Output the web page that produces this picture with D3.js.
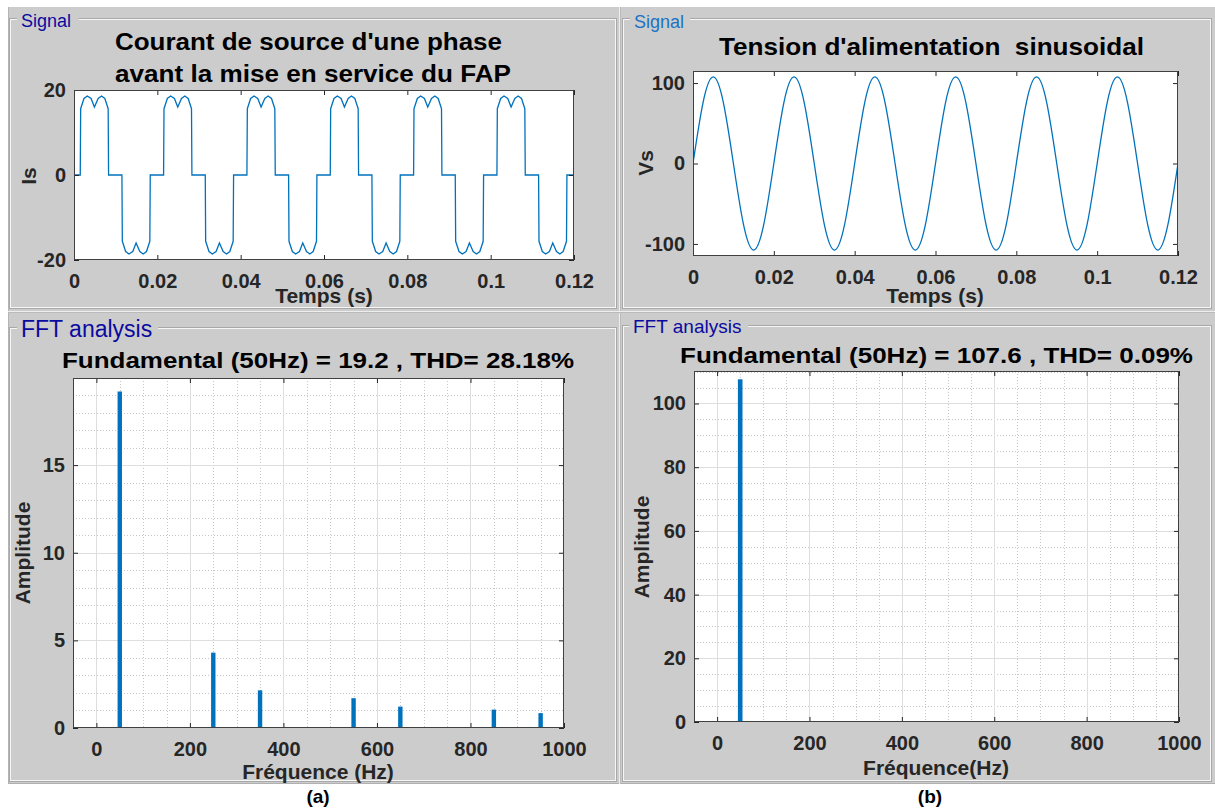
<!DOCTYPE html>
<html>
<head>
<meta charset="utf-8">
<script src="https://cdn.jsdelivr.net/npm/d3@7"></script>
<style>
  html, body { margin: 0; padding: 0; background: #ffffff; }
  svg { display: block; font-family: "Liberation Sans", Arial, Helvetica, sans-serif; }
</style>
</head>
<body>
<script>
// ---------------------------------------------------------------------------
// Data
// ---------------------------------------------------------------------------

// Source current of one phase before the active filter (FAP) is switched on
const isTime = [
  0,
  0.0015, 0.0016, 0.0024, 0.0032, 0.0041, 0.0049, 0.0058, 0.0066, 0.0074, 0.0082, 0.0083,
  0.0115, 0.0116, 0.0124, 0.0132, 0.0141, 0.0149, 0.0158, 0.0166, 0.0174, 0.0182, 0.0183,
  0.0215, 0.0216, 0.0224, 0.0232, 0.0241, 0.0249, 0.0258, 0.0266, 0.0274, 0.0282, 0.0283,
  0.0315, 0.0316, 0.0324, 0.0332, 0.0341, 0.0349, 0.0358, 0.0366, 0.0374, 0.0382, 0.0383,
  0.0415, 0.0416, 0.0424, 0.0432, 0.0441, 0.0449, 0.0458, 0.0466, 0.0474, 0.0482, 0.0483,
  0.0515, 0.0516, 0.0524, 0.0532, 0.0541, 0.0549, 0.0558, 0.0566, 0.0574, 0.0582, 0.0583,
  0.0615, 0.0616, 0.0624, 0.0632, 0.0641, 0.0649, 0.0658, 0.0666, 0.0674, 0.0682, 0.0683,
  0.0715, 0.0716, 0.0724, 0.0732, 0.0741, 0.0749, 0.0758, 0.0766, 0.0774, 0.0782, 0.0783,
  0.0815, 0.0816, 0.0824, 0.0832, 0.0841, 0.0849, 0.0858, 0.0866, 0.0874, 0.0882, 0.0883,
  0.0915, 0.0916, 0.0924, 0.0932, 0.0941, 0.0949, 0.0958, 0.0966, 0.0974, 0.0982, 0.0983,
  0.1015, 0.1016, 0.1024, 0.1032, 0.1041, 0.1049, 0.1058, 0.1066, 0.1074, 0.1082, 0.1083,
  0.1115, 0.1116, 0.1124, 0.1132, 0.1141, 0.1149, 0.1158, 0.1166, 0.1174, 0.1182, 0.1183,
  0.12
];
const isValue = [
  0,
  0, 15.6, 18.0, 18.6, 18.0, 16.0, 18.0, 18.6, 18.0, 15.6, 0,
  0, -15.6, -18.0, -18.6, -18.0, -16.0, -18.0, -18.6, -18.0, -15.6, 0,
  0, 15.6, 18.0, 18.6, 18.0, 16.0, 18.0, 18.6, 18.0, 15.6, 0,
  0, -15.6, -18.0, -18.6, -18.0, -16.0, -18.0, -18.6, -18.0, -15.6, 0,
  0, 15.6, 18.0, 18.6, 18.0, 16.0, 18.0, 18.6, 18.0, 15.6, 0,
  0, -15.6, -18.0, -18.6, -18.0, -16.0, -18.0, -18.6, -18.0, -15.6, 0,
  0, 15.6, 18.0, 18.6, 18.0, 16.0, 18.0, 18.6, 18.0, 15.6, 0,
  0, -15.6, -18.0, -18.6, -18.0, -16.0, -18.0, -18.6, -18.0, -15.6, 0,
  0, 15.6, 18.0, 18.6, 18.0, 16.0, 18.0, 18.6, 18.0, 15.6, 0,
  0, -15.6, -18.0, -18.6, -18.0, -16.0, -18.0, -18.6, -18.0, -15.6, 0,
  0, 15.6, 18.0, 18.6, 18.0, 16.0, 18.0, 18.6, 18.0, 15.6, 0,
  0, -15.6, -18.0, -18.6, -18.0, -16.0, -18.0, -18.6, -18.0, -15.6, 0,
  0
];

// Sinusoidal supply voltage, sampled every 2.5 ms
const vsTime = [
  0, 0.0025, 0.005, 0.0075, 0.01, 0.0125, 0.015, 0.0175,
  0.02, 0.0225, 0.025, 0.0275, 0.03, 0.0325, 0.035, 0.0375,
  0.04, 0.0425, 0.045, 0.0475, 0.05, 0.0525, 0.055, 0.0575,
  0.06, 0.0625, 0.065, 0.0675, 0.07, 0.0725, 0.075, 0.0775,
  0.08, 0.0825, 0.085, 0.0875, 0.09, 0.0925, 0.095, 0.0975,
  0.1, 0.1025, 0.105, 0.1075, 0.11, 0.1125, 0.115, 0.1175,
  0.12
];
const vsValue = [
  0, 76.1, 107.6, 76.1, 0, -76.1, -107.6, -76.1,
  0, 76.1, 107.6, 76.1, 0, -76.1, -107.6, -76.1,
  0, 76.1, 107.6, 76.1, 0, -76.1, -107.6, -76.1,
  0, 76.1, 107.6, 76.1, 0, -76.1, -107.6, -76.1,
  0, 76.1, 107.6, 76.1, 0, -76.1, -107.6, -76.1,
  0, 76.1, 107.6, 76.1, 0, -76.1, -107.6, -76.1,
  0
];

// FFT spectra (harmonic frequency in Hz, amplitude)
const spectrumFreqA = [50, 250, 350, 550, 650, 850, 950];
const spectrumAmpA  = [19.2, 4.3, 2.15, 1.7, 1.22, 1.05, 0.85];
const thdA = "28.18%";
const spectrumFreqB = [50];
const spectrumAmpB  = [107.6];
const thdB = "0.09%";

// Tick values and labels
const timeTicks = [0, 0.02, 0.04, 0.06, 0.08, 0.1, 0.12];
const timeTickLabels = ["0", "0.02", "0.04", "0.06", "0.08", "0.1", "0.12"];
const isTicks = [-20, 0, 20];
const isTickLabels = ["-20", "0", "20"];
const vsTicks = [-100, 0, 100];
const vsTickLabels = ["-100", "0", "100"];
const freqTicks = [0, 200, 400, 600, 800, 1000];
const freqTickLabels = ["0", "200", "400", "600", "800", "1000"];
const ampTicksA = [0, 5, 10, 15];
const ampTickLabelsA = ["0", "5", "10", "15"];
const ampTicksB = [0, 20, 40, 60, 80, 100];
const ampTickLabelsB = ["0", "20", "40", "60", "80", "100"];

// ---------------------------------------------------------------------------
// Drawing
// ---------------------------------------------------------------------------
const W = 1215, H = 811;
const panelGray = "#cccccc";
const lineBlue = "#0072bd";
const inkDark = "#262626";

const svg = d3.select("body").append("svg").attr("width", W).attr("height", H);

// Window background and separators
svg.append("rect").attr("x", 8).attr("y", 7).attr("width", W - 8).attr("height", 777).attr("fill", panelGray);
svg.append("line").attr("x1", 8.5).attr("x2", 8.5).attr("y1", 7).attr("y2", 784).attr("stroke", "#b4b4b4");
svg.append("line").attr("x1", 8).attr("x2", W).attr("y1", 783.5).attr("y2", 783.5).attr("stroke", "#b0b0b0");
svg.append("line").attr("x1", 619.5).attr("x2", 619.5).attr("y1", 7).attr("y2", 784).attr("stroke", "#eeeeee");
svg.append("line").attr("x1", 620.5).attr("x2", 620.5).attr("y1", 7).attr("y2", 784).attr("stroke", "#bababa");
svg.append("line").attr("x1", 8).attr("x2", W).attr("y1", 311.5).attr("y2", 311.5).attr("stroke", "#eeeeee");
svg.append("line").attr("x1", 8).attr("x2", W).attr("y1", 312.5).attr("y2", 312.5).attr("stroke", "#bababa");

function groupBox(x0, y0, x1, y1, label, color, size, tx, ty, gap0, gap1) {
  const g = svg.append("g");
  g.append("rect").attr("x", x0 + 0.5).attr("y", y0 + 0.5)
    .attr("width", x1 - x0).attr("height", y1 - y0)
    .attr("fill", "none").attr("stroke", "#a8a8a8");
  g.append("rect").attr("x", x0 + 1.5).attr("y", y0 + 1.5)
    .attr("width", x1 - x0 - 2).attr("height", y1 - y0 - 2)
    .attr("fill", "none").attr("stroke", "#f6f6f6");
  g.append("rect").attr("x", gap0).attr("y", y0 - 3).attr("width", gap1 - gap0).attr("height", 7).attr("fill", panelGray);
  g.append("text").attr("x", tx).attr("y", ty).attr("fill", color).attr("font-size", size).text(label);
}

groupBox(9, 18, 616, 308, "Signal", "#0a0aa0", 18, 21, 27, 17, 79);
groupBox(622, 18, 1211, 308, "Signal", "#1c72c4", 18, 634, 28, 630, 690);
groupBox(9, 327, 616, 781, "FFT analysis", "#0a0aa0", 23, 21, 337, 17, 158);
groupBox(622, 325, 1211, 781, "FFT analysis", "#0a0aa0", 19, 633, 333, 629, 748);

function makeAxes(x0, y0, x1, y1, xDomain, yDomain) {
  const x = d3.scaleLinear().domain(xDomain).range([x0, x1]);
  const y = d3.scaleLinear().domain(yDomain).range([y1, y0]);
  const g = svg.append("g");
  g.append("rect").attr("x", x0).attr("y", y0).attr("width", x1 - x0).attr("height", y1 - y0).attr("fill", "#ffffff");
  const clipId = "clip" + Math.round(x0) + "_" + Math.round(y0);
  g.append("clipPath").attr("id", clipId).append("rect")
    .attr("x", x0).attr("y", y0).attr("width", x1 - x0).attr("height", y1 - y0);
  const plot = g.append("g").attr("clip-path", `url(#${clipId})`);
  return { x, y, g, plot, x0, x1, y0, y1 };
}

function drawGrid(ax, xMinor, xMajor, yMinor, yMajor) {
  const gg = ax.plot.append("g");
  const vline = (sel, vals, stroke, dash) => sel.selectAll(null).data(vals).join("line")
    .attr("x1", d => Math.round(ax.x(d)) + 0.5).attr("x2", d => Math.round(ax.x(d)) + 0.5)
    .attr("y1", ax.y0).attr("y2", ax.y1).attr("stroke", stroke).attr("stroke-dasharray", dash);
  const hline = (sel, vals, stroke, dash) => sel.selectAll(null).data(vals).join("line")
    .attr("y1", d => Math.round(ax.y(d)) + 0.5).attr("y2", d => Math.round(ax.y(d)) + 0.5)
    .attr("x1", ax.x0).attr("x2", ax.x1).attr("stroke", stroke).attr("stroke-dasharray", dash);
  vline(gg, xMinor, "#c6c6c6", "1,2");
  hline(gg, yMinor, "#c6c6c6", "1,2");
  vline(gg, xMajor, "#dedede", null);
  hline(gg, yMajor, "#dedede", null);
}

function drawFrame(ax, xTicks, xLabels, yTicks, yLabels) {
  const { x, y, g } = ax;
  const styleAxis = sel => {
    sel.select(".domain").remove();
    sel.selectAll(".tick line").attr("stroke", inkDark);
    sel.selectAll(".tick text").attr("fill", inkDark)
      .attr("font-size", 20).attr("font-weight", "bold")
      .attr("font-family", "Liberation Sans, Arial, sans-serif");
  };
  g.append("g").attr("transform", `translate(0,${ax.y1})`)
    .call(d3.axisBottom(x).tickValues(xTicks).tickFormat((d, i) => xLabels[i]).tickSize(-5).tickPadding(14))
    .call(styleAxis);
  g.append("g").attr("transform", `translate(0,${ax.y0})`)
    .call(d3.axisTop(x).tickValues(xTicks).tickFormat(() => "").tickSize(-5))
    .call(styleAxis);
  g.append("g").attr("transform", `translate(${ax.x0},0)`)
    .call(d3.axisLeft(y).tickValues(yTicks).tickFormat((d, i) => yLabels[i]).tickSize(-5).tickPadding(8))
    .call(styleAxis);
  g.append("g").attr("transform", `translate(${ax.x1},0)`)
    .call(d3.axisRight(y).tickValues(yTicks).tickFormat(() => "").tickSize(-5))
    .call(styleAxis);
  g.append("rect").attr("x", ax.x0 + 0.5).attr("y", ax.y0 + 0.5)
    .attr("width", ax.x1 - ax.x0 - 1).attr("height", ax.y1 - ax.y0 - 1)
    .attr("fill", "none").attr("stroke", "#404040");
}

function boldText(x, y, str, size, opts = {}) {
  const t = svg.append("text").attr("x", x).attr("y", y)
    .attr("font-size", size).attr("font-weight", "bold")
    .attr("fill", opts.fill || "#000000")
    .attr("text-anchor", opts.anchor || "middle")
    .style("white-space", "pre")
    .text(str);
  if (opts.length) t.attr("textLength", opts.length).attr("lengthAdjust", "spacingAndGlyphs");
  if (opts.rotate) t.attr("transform", `rotate(-90,${x},${y})`);
  return t;
}

// --- Source current ---------------------------------------------------------
const axI = makeAxes(74, 90, 574, 260, [0, 0.12], [-20, 20]);
axI.plot.append("path")
  .datum(isTime.map((t, i) => [t, isValue[i]]))
  .attr("fill", "none").attr("stroke", lineBlue).attr("stroke-width", 1.3)
  .attr("d", d3.line().x(d => axI.x(d[0])).y(d => axI.y(d[1])));
drawFrame(axI, timeTicks, timeTickLabels, isTicks, isTickLabels);
boldText(115, 50, "Courant de source d'une phase", 23, { anchor: "start", length: 387 });
boldText(115, 82, "avant la mise en service du FAP", 23, { anchor: "start", length: 396 });
boldText(36, 176, "Is", 21, { rotate: true, fill: inkDark });
boldText(324, 303, "Temps (s)", 21, { fill: inkDark });

// --- Supply voltage ---------------------------------------------------------
const axV = makeAxes(693, 71, 1178, 256, [0, 0.12], [-115, 115]);
axV.plot.append("path")
  .datum(vsTime.map((t, i) => [t, vsValue[i]]))
  .attr("fill", "none").attr("stroke", lineBlue).attr("stroke-width", 1.3)
  .attr("d", d3.line().curve(d3.curveNatural).x(d => axV.x(d[0])).y(d => axV.y(d[1])));
drawFrame(axV, timeTicks, timeTickLabels, vsTicks, vsTickLabels);
boldText(719, 55, "Tension d'alimentation  sinusoidal", 24, { anchor: "start", length: 425 });
boldText(653, 163, "Vs", 21, { rotate: true, fill: inkDark });
boldText(935, 303, "Temps (s)", 21, { fill: inkDark });

// --- FFT of the source current ---------------------------------------------
const axA = makeAxes(73, 378, 564, 728, [-50, 1000], [0, 19.97]);
drawGrid(axA, d3.range(-50, 1001, 50), freqTicks, d3.range(0, 20, 1), ampTicksA);
axA.plot.append("g").selectAll("rect")
  .data(spectrumFreqA.map((f, i) => [f, spectrumAmpA[i]]))
  .join("rect")
  .attr("x", d => axA.x(d[0]) - 2.2).attr("width", 4.4)
  .attr("y", d => axA.y(d[1])).attr("height", d => axA.y(0) - axA.y(d[1]))
  .attr("fill", lineBlue);
drawFrame(axA, freqTicks, freqTickLabels, ampTicksA, ampTickLabelsA);
boldText(62, 368, `Fundamental (50Hz) = ${spectrumAmpA[0]} , THD= ${thdA}`, 22, { anchor: "start", length: 512 });
boldText(30, 553, "Amplitude", 21, { rotate: true, fill: inkDark });
boldText(318, 779, "Fréquence (Hz)", 21, { fill: inkDark });

// --- FFT of the supply voltage ---------------------------------------------
const axB = makeAxes(694, 371, 1179, 722, [-50, 1000], [0, 110.2]);
drawGrid(axB, d3.range(-50, 1001, 50), freqTicks, d3.range(0, 111, 5), ampTicksB);
axB.plot.append("g").selectAll("rect")
  .data(spectrumFreqB.map((f, i) => [f, spectrumAmpB[i]]))
  .join("rect")
  .attr("x", d => axB.x(d[0]) - 2.3).attr("width", 4.6)
  .attr("y", d => axB.y(d[1])).attr("height", d => axB.y(0) - axB.y(d[1]))
  .attr("fill", lineBlue);
drawFrame(axB, freqTicks, freqTickLabels, ampTicksB, ampTickLabelsB);
boldText(680, 363, `Fundamental (50Hz) = ${spectrumAmpB[0]} , THD= ${thdB}`, 22, { anchor: "start", length: 513 });
boldText(649, 547, "Amplitude", 21, { rotate: true, fill: inkDark });
boldText(936, 775, "Fréquence(Hz)", 21, { fill: inkDark });

// Sub-figure captions
boldText(318, 803, "(a)", 19);
boldText(930, 803, "(b)", 19);
</script>
</body>
</html>
